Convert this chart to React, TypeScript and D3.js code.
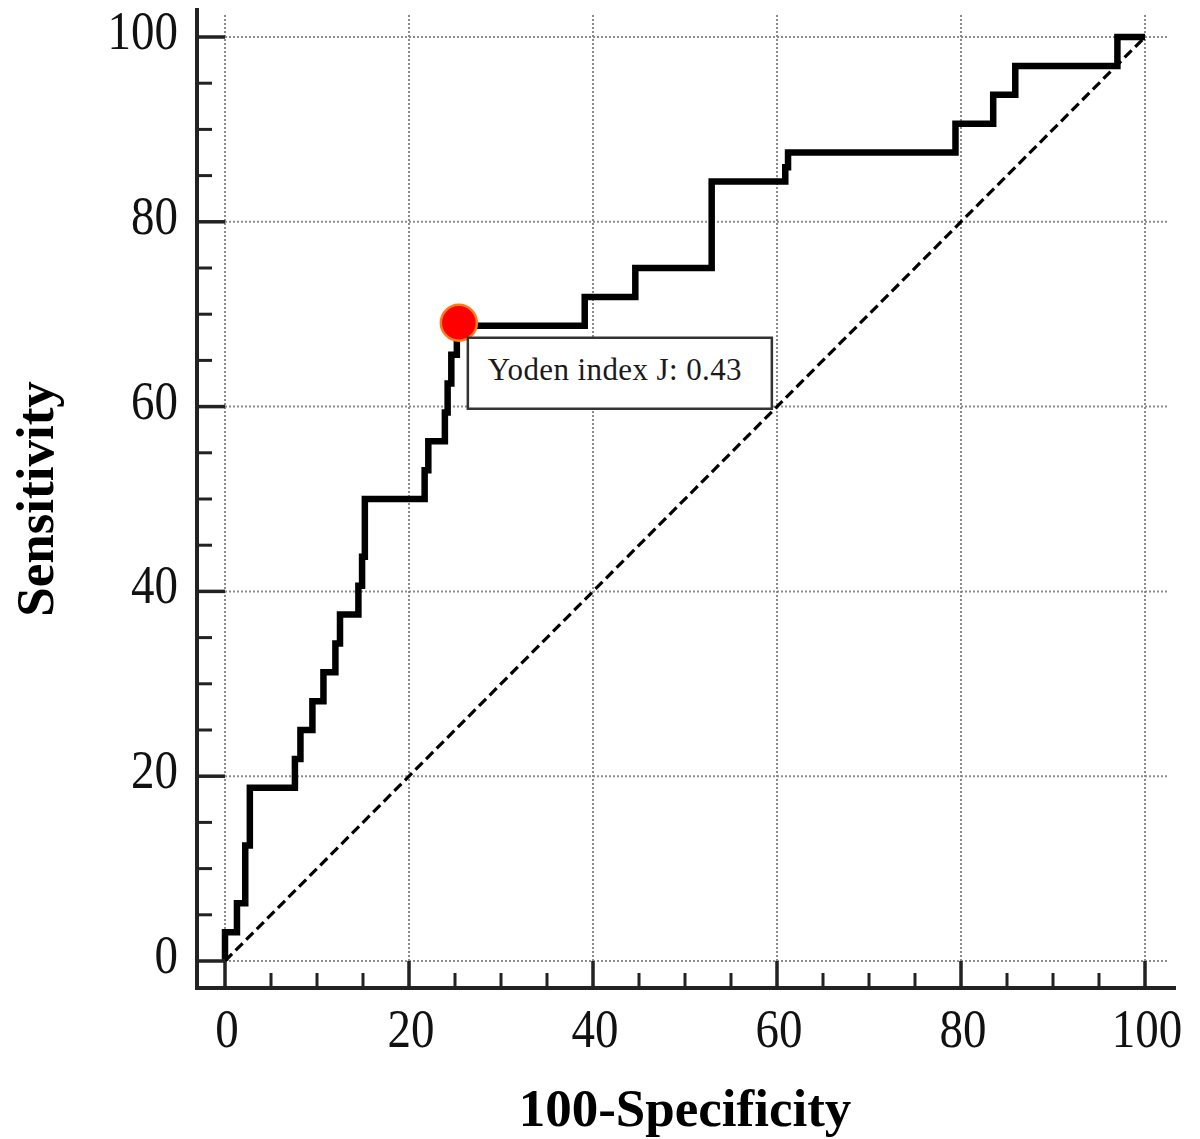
import React from 'react';
import * as d3 from 'd3';

// ROC corner points (100-Specificity, Sensitivity)
const fpr = [
  0, 0, 1.3, 2.2, 2.7, 7.6, 8.2, 9.5, 10.7, 12.0, 12.5, 14.5, 14.9, 15.2, 21.7,
  22.1, 23.9, 24.2, 24.6, 25.2, 39.1, 44.6, 52.9, 60.9, 61.2, 79.4, 83.5, 85.9,
  97.0, 100,
];
const tpr = [
  0, 3.125, 6.25, 12.5, 18.75, 21.875, 25, 28.125, 31.25, 34.375, 37.5, 40.625,
  43.75, 50, 53.125, 56.25, 59.375, 62.5, 65.625, 68.75, 71.875, 75, 84.375,
  85.9, 87.5, 90.625, 93.75, 96.875, 100, 100,
];
const majorTicks = [0, 20, 40, 60, 80, 100];
const minorTicks = [5, 10, 15, 25, 30, 35, 45, 50, 55, 65, 70, 75, 85, 90, 95];
const youdenIndex = 19; // point (25.2, 68.75)
const youdenLabel = 'Yoden index J: 0.43';
const xTitle = '100-Specificity';
const yTitle = 'Sensitivity';

const serif = "'Liberation Serif', 'Times New Roman', serif";

const App = () => {
  const width = 1200;
  const height = 1139;

  // plot box
  const x = d3.scaleLinear().domain([0, 100]).range([225, 1145]);
  const y = d3.scaleLinear().domain([0, 100]).range([961, 37]);
  const axisX = 197; // left axis line
  const axisY = 988; // bottom axis line

  const pts: [number, number][] = fpr.map((f, i) => [f, tpr[i]]);
  const rocPath = d3
    .line<[number, number]>()
    .curve(d3.curveStepAfter)
    .x((d) => x(d[0]))
    .y((d) => y(d[1]))(pts);

  const dotX = x(fpr[youdenIndex]);
  const dotY = y(tpr[youdenIndex]);

  const gridColor = '#8c8c8c';
  const axisColor = '#222';

  return (
    <svg
      width={width}
      height={height}
      style={{ position: 'absolute', left: 0, top: 0, background: '#fff' }}
    >
      {/* grid */}
      <g stroke={gridColor} strokeWidth={2} strokeDasharray='2 2'>
        {majorTicks.map((t) => (
          <line key={'gx' + t} x1={x(t)} x2={x(t)} y1={y(0)} y2={13} />
        ))}
        {majorTicks.map((t) => (
          <line key={'gy' + t} x1={x(0)} x2={1168} y1={y(t)} y2={y(t)} />
        ))}
      </g>

      {/* diagonal reference */}
      <line
        x1={x(0)}
        y1={y(0)}
        x2={x(100)}
        y2={y(100)}
        stroke='#000'
        strokeWidth={3.2}
        strokeDasharray='10 5'
      />

      {/* ROC curve */}
      <path
        d={rocPath || ''}
        fill='none'
        stroke='#000'
        strokeWidth={6.5}
        strokeLinejoin='miter'
      />

      {/* axes */}
      <g stroke={axisColor} strokeLinecap='butt'>
        <line x1={axisX} x2={axisX} y1={8} y2={axisY + 2} strokeWidth={4} />
        <line x1={axisX - 2} x2={1176} y1={axisY} y2={axisY} strokeWidth={4} />
        {majorTicks.map((t) => (
          <line key={'my' + t} x1={axisX} x2={x(0)} y1={y(t)} y2={y(t)} strokeWidth={3.5} />
        ))}
        {minorTicks.map((t) => (
          <line key={'ny' + t} x1={axisX} x2={axisX + 15} y1={y(t)} y2={y(t)} strokeWidth={3} />
        ))}
        {majorTicks.map((t) => (
          <line key={'mx' + t} x1={x(t)} x2={x(t)} y1={axisY} y2={y(0)} strokeWidth={3.5} />
        ))}
        {minorTicks.map((t) => (
          <line key={'nx' + t} x1={x(t)} x2={x(t)} y1={axisY} y2={axisY - 15} strokeWidth={3} />
        ))}
      </g>

      {/* tick labels */}
      <g fontFamily={serif} fontSize={47} fill='#111'>
        {majorTicks.map((t) => (
          <text
            key={'ly' + t}
            textAnchor='end'
            transform={`translate(178, ${y(t) + 12}) scale(1, 1.15)`}
          >
            {t}
          </text>
        ))}
        {majorTicks.map((t) => (
          <text
            key={'lx' + t}
            textAnchor='middle'
            transform={`translate(${x(t) + 2}, 1047) scale(1, 1.15)`}
          >
            {t}
          </text>
        ))}
      </g>

      {/* axis titles */}
      <text
        x={(x(0) + x(100)) / 2}
        y={1126}
        textAnchor='middle'
        fontFamily={serif}
        fontWeight='bold'
        fontSize={53}
        fill='#000'
      >
        {xTitle}
      </text>
      <text
        transform={`translate(53, ${(y(0) + y(100)) / 2}) rotate(-90)`}
        textAnchor='middle'
        fontFamily={serif}
        fontWeight='bold'
        fontSize={53}
        fill='#000'
      >
        {yTitle}
      </text>

      {/* Youden point and label */}
      <circle cx={dotX + 2} cy={dotY - 3} r={18} fill='#ff0000' stroke='#ff7a1a' strokeWidth={2.5} />
      <rect
        x={dotX + 11}
        y={dotY + 12}
        width={304}
        height={71}
        fill='#fff'
        stroke='#333'
        strokeWidth={2.5}
      />
      <text
        x={dotX + 31}
        y={dotY + 54}
        fontFamily={serif}
        fontSize={31}
        letterSpacing={0.4}
        fill='#1a1a1a'
      >
        {youdenLabel}
      </text>
    </svg>
  );
};

export default App;
